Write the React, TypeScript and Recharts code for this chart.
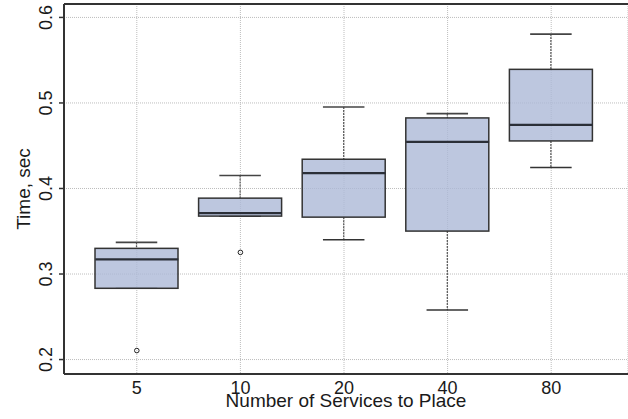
import React from 'react';
import {
  ComposedChart,
  Bar,
  Scatter,
  XAxis,
  YAxis,
  CartesianGrid,
  ReferenceLine,
  Label,
} from 'recharts';

// services to place (x categories)
const groups = ['5', '10', '20', '40', '80'];

// box statistics (seconds)
const whiskerLow = [0.2833, 0.3677, 0.3401, 0.258, 0.4245];
const q1 = [0.2833, 0.3677, 0.3665, 0.3502, 0.4556];
const median = [0.3171, 0.3712, 0.4179, 0.4545, 0.4743];
const q3 = [0.33, 0.3887, 0.4342, 0.4825, 0.5393];
const whiskerHigh = [0.337, 0.4152, 0.4953, 0.4875, 0.5805];
const outliers: (number | null)[] = [0.2105, 0.3253, null, null, null];

const yTicks = [0.2, 0.3, 0.4, 0.5, 0.6];
const yDomain: [number, number] = [0.1831, 0.6157];

const FONT = '"Liberation Sans", Arial, Helvetica, sans-serif';
const INK = '#1a1a1a';
const BOX_W = 83;

const data = groups.map((name, i) => ({
  name,
  low: [whiskerLow[i], q1[i]],
  high: [q3[i], whiskerHigh[i]],
  box: [q1[i], q3[i]],
  median: median[i],
  outlier: outliers[i],
}));

const LowWhisker = (props: any) => {
  const { x, y, width, height } = props;
  const cx = x + width / 2;
  const top = Math.min(y, y + height);
  const bottom = Math.max(y, y + height);
  return (
    <g>
      <line x1={cx} x2={cx} y1={top} y2={bottom} stroke="#555" strokeWidth={1.2} strokeDasharray="2 1" />
      <line x1={cx - width / 4} x2={cx + width / 4} y1={bottom} y2={bottom} stroke="#333" strokeWidth={1.6} />
    </g>
  );
};

const HighWhisker = (props: any) => {
  const { x, y, width, height } = props;
  const cx = x + width / 2;
  const top = Math.min(y, y + height);
  const bottom = Math.max(y, y + height);
  return (
    <g>
      <line x1={cx} x2={cx} y1={top} y2={bottom} stroke="#555" strokeWidth={1.2} strokeDasharray="2 1" />
      <line x1={cx - width / 4} x2={cx + width / 4} y1={top} y2={top} stroke="#444" strokeWidth={1.6} />
    </g>
  );
};

const BoxShape = (props: any) => {
  const { x, y, width, height } = props;
  const top = Math.min(y, y + height);
  const h = Math.abs(height);
  return (
    <rect
      x={x}
      y={top}
      width={width}
      height={h}
      fill="#acb9d7"
      fillOpacity={0.8}
      stroke="#333"
      strokeWidth={1.5}
    />
  );
};

const MedianShape = (props: any) => {
  const { cx, cy } = props;
  if (cx == null || cy == null) return <g />;
  return <line x1={cx - BOX_W / 2} x2={cx + BOX_W / 2} y1={cy} y2={cy} stroke="#2b2f38" strokeWidth={2.2} />;
};

const OutlierShape = (props: any) => {
  const { cx, cy, payload } = props;
  if (!payload || payload.outlier == null || cx == null || cy == null) return <g />;
  return <circle cx={cx} cy={cy} r={2.3} fill="none" stroke="#222" strokeWidth={1} />;
};

const YTick = (props: any) => {
  const { y, payload } = props;
  const bx = 52.5;
  return (
    <text
      x={bx}
      y={y}
      transform={`rotate(-90 ${bx} ${y})`}
      textAnchor="middle"
      fontFamily={FONT}
      fontSize={18}
      fill={INK}
    >
      {String(payload.value)}
    </text>
  );
};

const XTick = (props: any) => {
  const { x, y, payload } = props;
  return (
    <text x={x} y={y + 18} textAnchor="middle" fontFamily={FONT} fontSize={18} fill={INK}>
      {payload.value}
    </text>
  );
};

export default function App() {
  return (
    <div
      style={{
        position: 'absolute',
        left: 0,
        top: 0,
        width: 628,
        height: 419,
        overflow: 'hidden',
        background: '#fff',
      }}
    >
      <ComposedChart
        width={628}
        height={419}
        data={data}
        margin={{ top: 4, right: 0, bottom: 0, left: 0 }}
        barGap={-BOX_W}
      >
        <CartesianGrid stroke="#bdbdbd" strokeDasharray="1 1" />
        <XAxis
          dataKey="name"
          type="category"
          height={45}
          padding={{ left: 21, right: 25 }}
          axisLine={{ stroke: '#333', strokeWidth: 2 }}
          tickLine={false}
          tickSize={0}
          tick={<XTick />}
          interval={0}
        >
          <Label
            content={(p: any) => {
              const vb = p.viewBox || { x: 64, y: 374, width: 564 };
              return (
                <text
                  x={vb.x + vb.width / 2}
                  y={vb.y + 33}
                  textAnchor="middle"
                  fontFamily={FONT}
                  fontSize={19}
                  fill={INK}
                >
                  Number of Services to Place
                </text>
              );
            }}
          />
        </XAxis>
        <YAxis
          type="number"
          domain={yDomain}
          ticks={yTicks}
          width={64}
          axisLine={{ stroke: '#333', strokeWidth: 2 }}
          tickLine={{ stroke: '#333', strokeWidth: 1.5 }}
          tickSize={5}
          tick={<YTick />}
          interval={0}
        >
          <Label
            content={(p: any) => {
              const vb = p.viewBox || { x: 0, y: 4, height: 370 };
              const cy = vb.y + vb.height / 2;
              return (
                <text
                  x={29.5}
                  y={cy}
                  transform={`rotate(-90 29.5 ${cy})`}
                  textAnchor="middle"
                  fontFamily={FONT}
                  fontSize={19}
                  fill={INK}
                >
                  Time, sec
                </text>
              );
            }}
          />
        </YAxis>
        <ReferenceLine y={yDomain[1]} stroke="#333" strokeWidth={2} />
        <Bar dataKey="low" barSize={BOX_W} shape={<LowWhisker />} isAnimationActive={false} />
        <Bar dataKey="high" barSize={BOX_W} shape={<HighWhisker />} isAnimationActive={false} />
        <Bar dataKey="box" barSize={BOX_W} shape={<BoxShape />} isAnimationActive={false} />
        <Scatter dataKey="median" shape={<MedianShape />} isAnimationActive={false} />
        <Scatter dataKey="outlier" shape={<OutlierShape />} isAnimationActive={false} />
      </ComposedChart>
    </div>
  );
}
